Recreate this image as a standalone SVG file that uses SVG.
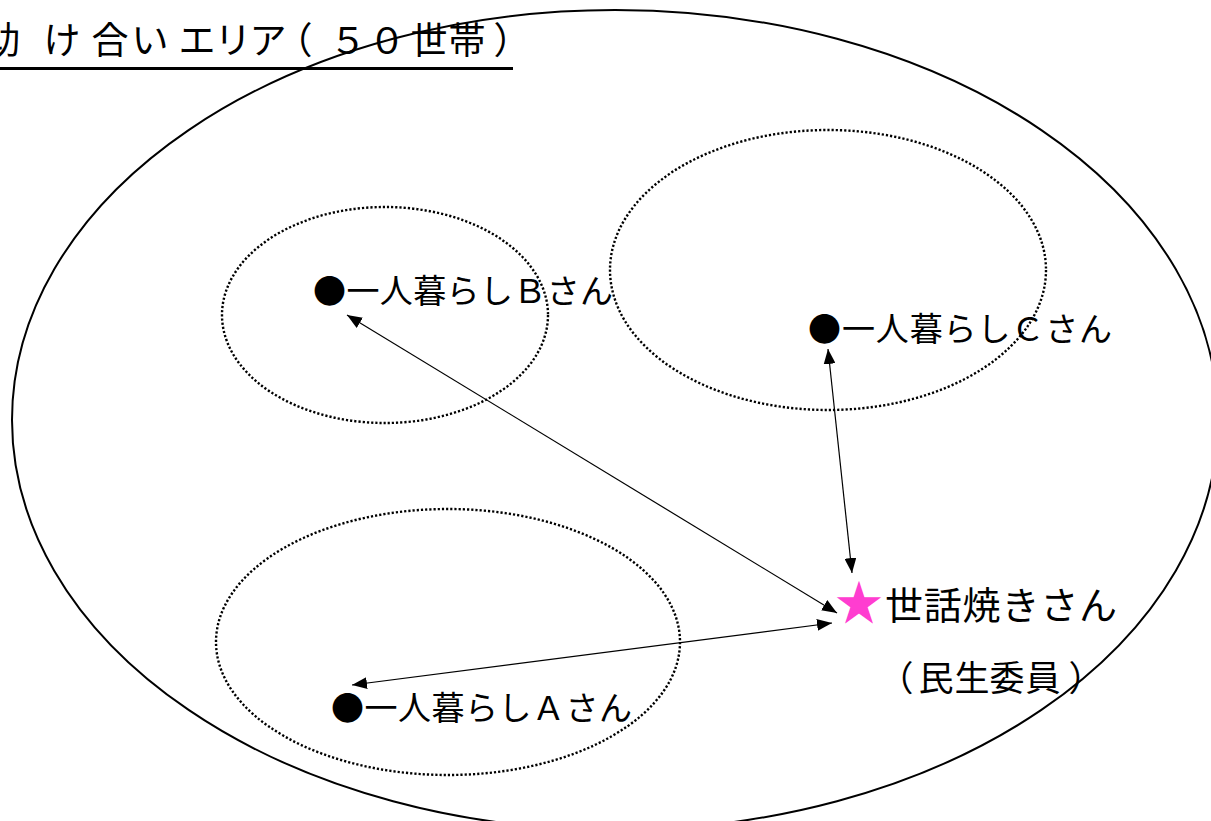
<svg xmlns="http://www.w3.org/2000/svg" width="1211" height="821" viewBox="0 0 1211 821">
<style>
.t{font-family:"Noto Sans CJK JP","Noto Sans",sans-serif;fill:#000;text-spacing-trim:space-all}
.dot{fill:none;stroke:#000;stroke-width:2.4;stroke-dasharray:2.2 2}
.con{fill:none;stroke:#000;stroke-width:1.2;marker-start:url(#ah);marker-end:url(#ah)}
</style>
<defs>
<marker id="ah" markerUnits="userSpaceOnUse" markerWidth="16" markerHeight="12" refX="15" refY="6" orient="auto-start-reverse">
<path d="M0,0 L15,6 L0,12 z" fill="#000"/>
</marker>
</defs>
<rect width="1211" height="821" fill="#fff"/>
<g id="area">
<ellipse cx="615" cy="420" rx="603" ry="410" fill="none" stroke="#000" stroke-width="2"/>
<text class="t" font-size="37" text-anchor="middle" x="2 62 110 150 197 233 268 294 348 387 429 467 512" y="54">助け合いエリア（５０世帯）</text>
<rect x="0" y="67" width="513" height="3" fill="#000"/>
</g>
<g id="groupB"><ellipse class="dot" cx="385" cy="315" rx="163" ry="108"/></g>
<g id="groupC"><ellipse class="dot" cx="828" cy="270" rx="218" ry="140"/></g>
<g id="groupA"><ellipse class="dot" cx="448" cy="642" rx="232" ry="133"/></g>
<g id="connectors">
<line class="con" x1="347" y1="315" x2="837" y2="613"/>
<line class="con" x1="352" y1="685" x2="832" y2="623"/>
<line class="con" x1="828" y1="349" x2="852" y2="573"/>
</g>
<g id="nodeB"><text class="t" font-size="33" x="313" y="303" textLength="300" lengthAdjust="spacing">●一人暮らしＢさん</text></g>
<g id="nodeC"><text class="t" font-size="33" x="808" y="341" textLength="304" lengthAdjust="spacing">●一人暮らしＣさん</text></g>
<g id="nodeA"><text class="t" font-size="33" x="331" y="720" textLength="301" lengthAdjust="spacing">●一人暮らしＡさん</text></g>
<g id="sewayaki">
<text class="t" font-size="48" x="835" y="620" style="fill:#FF3DD0">★</text>
<text class="t" font-size="38" x="885" y="619" textLength="232" lengthAdjust="spacing">世話焼きさん</text>
<text class="t" font-size="35" text-anchor="middle" x="896 936 972 1007 1043 1086" y="691">（民生委員）</text>
</g>
</svg>
